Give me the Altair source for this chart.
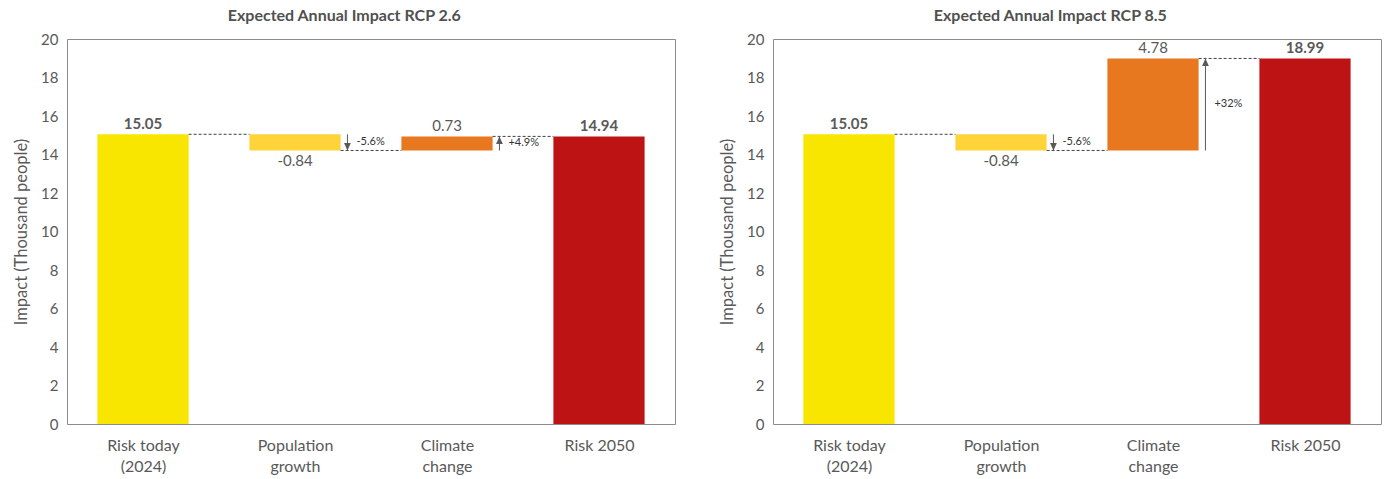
import json
import altair as alt
import pandas as pd

# Waterfall steps shared by both panels
categories = [["Risk today", "(2024)"], ["Population", "growth"], ["Climate", "change"], ["Risk 2050"]]
bar_colors = ["#F8E600", "#FFD33A", "#E8781F", "#BE1314"]

# One entry per scenario panel
panel_titles = ["Expected Annual Impact RCP 2.6", "Expected Annual Impact RCP 8.5"]
risk_today = [15.05, 15.05]
population_growth = [-0.84, -0.84]
climate_change = [0.73, 4.78]
risk_2050 = [14.94, 18.99]
population_pct = ["-5.6%", "-5.6%"]
climate_pct = ["+4.9%", "+32%"]
y_ticks = list(range(0, 21, 2))

FONT = "Lato"
GREY = "#595959"
HALF = 0.3          # half bar width in category units
ARROW_GAP = 0.045   # arrow distance from the bar edge, category units

arrow_down = "M0,0L-0.45,-1L0.45,-1Z"
arrow_up = "M0,0L-0.45,1L0.45,1Z"

X_SCALE = alt.Scale(domain=[-0.5, 3.5], nice=False, zero=False)
Y_SCALE = alt.Scale(domain=[0, 20], nice=False, zero=True)

X_AXIS = alt.Axis(values=[0, 1, 2, 3], labelExpr=json.dumps(categories) + "[datum.value]",
                  title=None, grid=False, ticks=False, domain=False, labelFlush=False,
                  labelOverlap=False,
                  labelFont=FONT, labelFontSize=16, labelColor=GREY,
                  labelLineHeight=21, labelPadding=13, labelBaseline="top")
Y_AXIS = alt.Axis(values=y_ticks, title="Impact (Thousand people)",
                  grid=False, ticks=False, domain=False, labelOverlap=False,
                  labelFont=FONT, labelFontSize=15, labelColor=GREY, labelPadding=9,
                  titleFont=FONT, titleFontSize=16.5, titleColor=GREY,
                  titleFontWeight="normal", titlePadding=11)


def qx(field):
    return alt.X(field, type="quantitative", scale=X_SCALE, axis=X_AXIS)


def qy(field):
    return alt.Y(field, type="quantitative", scale=Y_SCALE, axis=Y_AXIS)


def panel(k):
    start = risk_today[k]
    after_pop = start + population_growth[k]
    after_clim = after_pop + climate_change[k]
    end = risk_2050[k]

    lows = [0, after_pop, after_pop, 0]
    highs = [start, start, after_clim, end]
    values = [start, population_growth[k], climate_change[k], end]

    bars = pd.DataFrame({
        "i": list(range(4)),
        "x0": [i - HALF for i in range(4)],
        "x1": [i + HALF for i in range(4)],
        "lo": lows,
        "hi": highs,
        "value": values,
        "color": bar_colors,
        "kind": ["total", "delta", "delta", "total"],
    })
    bars["label"] = bars["value"].map(lambda v: f"{v:.2f}")

    levels = [start, after_pop, after_clim]
    connectors = pd.DataFrame({
        "x0": [i + HALF for i in range(3)],
        "x1": [i + 1 - HALF for i in range(3)],
        "y": levels,
    })

    arrows = pd.DataFrame({
        "x": [1 + HALF + ARROW_GAP, 2 + HALF + ARROW_GAP],
        "y0": [start, after_pop],
        "y1": [after_pop, after_clim],
        "pct": [population_pct[k], climate_pct[k]],
    })
    arrows["mid"] = (arrows["y0"] + arrows["y1"]) / 2
    arrows["up"] = arrows["y1"] > arrows["y0"]

    base_bars = alt.Chart(bars).transform_calculate(mid="(datum.x0 + datum.x1) / 2")
    bar_layer = base_bars.mark_bar().encode(
        x=qx("x0"), x2="x1:Q", y=qy("lo"), y2="hi:Q",
        color=alt.Color("color:N", scale=None),
    )

    text_common = dict(font=FONT, fontSize=15, color=GREY, align="center",
                       baseline="alphabetic")
    totals_text = base_bars.transform_filter("datum.kind == 'total'").mark_text(
        fontWeight="bold", dy=-5, **text_common
    ).encode(x=qx("mid"), y=qy("hi"), text="label:N")
    up_text = base_bars.transform_filter("datum.kind == 'delta' && datum.value >= 0").mark_text(
        dy=-5, **text_common
    ).encode(x=qx("mid"), y=qy("hi"), text="label:N")
    down_text = base_bars.transform_filter("datum.kind == 'delta' && datum.value < 0").mark_text(
        dy=16, **text_common
    ).encode(x=qx("mid"), y=qy("lo"), text="label:N")

    connector_layer = alt.Chart(connectors).mark_rule(
        color="#404040", strokeWidth=1, strokeDash=[3, 2]
    ).encode(x=qx("x0"), x2="x1:Q", y=qy("y"))

    base_arrows = alt.Chart(arrows)
    shaft = base_arrows.mark_rule(color=GREY, strokeWidth=1).encode(
        x=qx("x"), y=qy("y0"), y2="y1:Q")
    head_down = base_arrows.transform_filter("!datum.up").mark_point(
        shape=arrow_down, size=225, filled=True, color=GREY, opacity=1
    ).encode(x=qx("x"), y=qy("y1"))
    head_up = base_arrows.transform_filter("datum.up").mark_point(
        shape=arrow_up, size=225, filled=True, color=GREY, opacity=1
    ).encode(x=qx("x"), y=qy("y1"))
    pct_text = base_arrows.mark_text(
        font=FONT, fontSize=11, color="#333333", align="left", baseline="middle", dx=9
    ).encode(x=qx("x"), y=qy("mid"), text="pct:N")

    return alt.layer(
        bar_layer, connector_layer, shaft, head_down, head_up,
        totals_text, up_text, down_text, pct_text,
    ).properties(
        width=608, height=385,
        title=alt.TitleParams(panel_titles[k], anchor="middle", frame="bounds",
                              font=FONT, fontSize=16, fontWeight="bold",
                              color="#505050", offset=8),
    )


chart = alt.hconcat(panel(0), panel(1), spacing=43).properties(
    padding={"left": 13, "top": 7, "right": 0, "bottom": 0},
).configure_view(stroke="#8C8C8C", strokeWidth=1)

chart.save("out.html", embed_options={"renderer": "svg", "actions": False})
